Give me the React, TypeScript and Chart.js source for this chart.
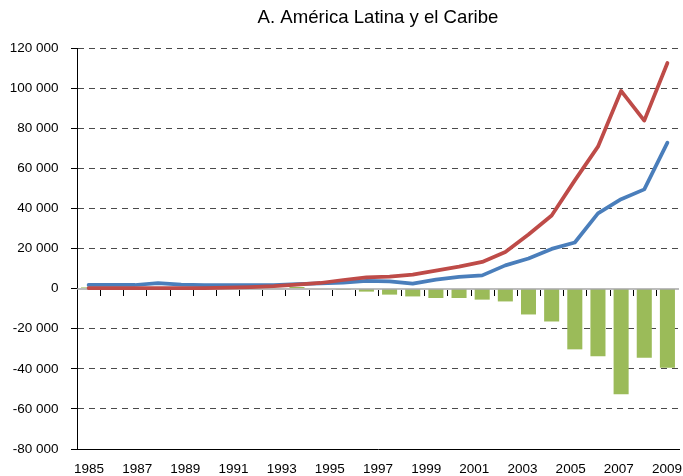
import React, { useEffect, useRef } from 'react';
import { Chart, registerables } from 'chart.js';

Chart.register(...registerables);

// Labelled axis (every second year is shown)
const yearLabels = [
  '1985', '1986', '1987', '1988', '1989', '1990', '1991', '1992', '1993', '1994',
  '1995', '1996', '1997', '1998', '1999', '2000', '2001', '2002', '2003', '2004',
  '2005', '2006', '2007', '2008', '2009',
];

// Data slots (26 slots on the plotting axis)
const slotLabels = [
  '1984', '1985', '1986', '1987', '1988', '1989', '1990', '1991', '1992', '1993',
  '1994', '1995', '1996', '1997', '1998', '1999', '2000', '2001', '2002', '2003',
  '2004', '2005', '2006', '2007', '2008', '2009',
];

const blueSeries = [
  1800, 1800, 1800, 2700, 2000, 1700, 1700, 1700, 1700, 2200,
  2600, 3000, 3800, 3600, 2500, 4500, 5800, 6600, 11600, 15000,
  19800, 23000, 37500, 44600, 49500, 72800,
];

const redSeries = [
  300, 300, 300, 300, 300, 300, 500, 800, 1200, 2000,
  2800, 4300, 5600, 6000, 7000, 9000, 11000, 13300, 18300, 27000,
  36500, 54000, 70800, 98600, 83800, 112500,
];

const balanceSeries = [
  600, 200, 200, 0, 200, 0, 0, 0, 300, 800,
  -300, -500, -1500, -3000, -3900, -4700, -4700, -5500, -6400, -12900,
  -16400, -30300, -33700, -52700, -34500, -39500,
];

const yMin = -80000;
const yMax = 120000;
const yStep = 20000;

const titleText = 'A. América Latina y el Caribe';

const fmt = (v: number) => {
  const s = Math.abs(v).toString().replace(/\B(?=(\d{3})+(?!\d))/g, ' ');
  return (v < 0 ? '-' : '') + s;
};

const zeroLinePlugin = {
  id: 'zeroLine',
  afterDatasetDraw(chart: any, args: any) {
    if (args.index !== 0) return;
    const { ctx, chartArea } = chart;
    const y = Math.round(chart.scales.y.getPixelForValue(0));
    const x2 = chart.scales.x2;
    ctx.save();
    ctx.strokeStyle = '#a6a6a6';
    ctx.lineWidth = 1.5;
    ctx.beginPath();
    ctx.moveTo(chartArea.left, y);
    ctx.lineTo(chartArea.right, y);
    ctx.stroke();
    ctx.strokeStyle = '#000';
    ctx.lineWidth = 1;
    for (let i = 1; i < slotLabels.length; i++) {
      const bx = Math.round((x2.getPixelForValue(i - 1) + x2.getPixelForValue(i)) / 2) + 0.5;
      ctx.beginPath();
      ctx.moveTo(bx, y + 1);
      ctx.lineTo(bx, y + 7);
      ctx.stroke();
    }
    ctx.restore();
  },
};

export default function App() {
  const ref = useRef<HTMLCanvasElement | null>(null);

  useEffect(() => {
    if (!ref.current) return;
    Chart.defaults.font.family = '"Liberation Sans", Arial, sans-serif';
    Chart.defaults.color = '#000';
    const chart = new Chart(ref.current, {
      type: 'bar',
      data: {
        labels: slotLabels,
        datasets: [
          {
            type: 'bar',
            data: balanceSeries,
            xAxisID: 'x2',
            backgroundColor: '#9BBB59',
            borderWidth: 0,
            barPercentage: 0.65,
            categoryPercentage: 1,
            order: 3,
          } as any,
          {
            type: 'line',
            data: blueSeries,
            xAxisID: 'x2',
            borderColor: '#4A7EBB',
            borderWidth: 3.75,
            pointRadius: 0,
            tension: 0,
            fill: false,
            borderJoinStyle: 'round',
            borderCapStyle: 'round',
            order: 1,
          } as any,
          {
            type: 'line',
            data: redSeries,
            xAxisID: 'x2',
            borderColor: '#BE4B48',
            borderWidth: 3.75,
            pointRadius: 0,
            tension: 0,
            fill: false,
            borderJoinStyle: 'round',
            borderCapStyle: 'round',
            order: 0,
          } as any,
        ],
      },
      options: {
        responsive: false,
        animation: false,
        devicePixelRatio: 1,
        layout: { padding: { left: 0, right: 4, top: 0, bottom: 0 } },
        plugins: {
          legend: { display: false },
          tooltip: { enabled: false },
          title: {
            display: true,
            text: titleText,
            fullSize: false,
            color: '#000',
            font: { size: 18.6, weight: 'normal' },
            padding: { top: 6.8, bottom: 18.9 },
          },
        },
        scales: {
          x: {
            type: 'category',
            labels: yearLabels,
            offset: true,
            position: 'bottom',
            grid: { display: false, drawTicks: false },
            border: { display: true, color: '#000', width: 1 },
            ticks: {
              autoSkip: false,
              maxRotation: 0,
              minRotation: 0,
              padding: 12,
              font: { size: 13.5 },
              color: '#000',
              callback: (_v: any, i: number) => (i % 2 === 0 ? yearLabels[i] : ''),
            },
            afterFit: (s: any) => {
              s.height = 27;
              s.paddingLeft = 0;
              s.paddingRight = 0;
            },
          },
          x2: {
            type: 'category',
            labels: slotLabels,
            offset: true,
            display: false,
          },
          y: {
            type: 'linear',
            min: yMin,
            max: yMax,
            position: 'left',
            ticks: {
              stepSize: yStep,
              padding: 12.5,
              font: { size: 13.5 },
              color: '#000',
              callback: (v: any) => fmt(Number(v)),
            },
            grid: {
              color: (c: any) =>
                c.tick && (c.tick.value === 0 || c.tick.value === yMin) ? 'rgba(0,0,0,0)' : '#4a4a4a',
              lineWidth: 1,
              drawTicks: true,
              tickLength: 6,
              tickColor: '#000',
              tickWidth: 1,
            },
            border: {
              display: true,
              color: '#000',
              width: 1,
              dash: (c: any) => (c.type === 'tick' ? [6, 5] : []),
            },
            afterFit: (s: any) => {
              s.width = 77;
            },
          },
        },
      },
      plugins: [zeroLinePlugin],
    } as any);
    return () => chart.destroy();
  }, []);

  return (
    <div style={{ position: 'absolute', left: 0, top: 0, width: 683, height: 476, background: '#fff' }}>
      <canvas ref={ref} width={683} height={476} />
    </div>
  );
}
